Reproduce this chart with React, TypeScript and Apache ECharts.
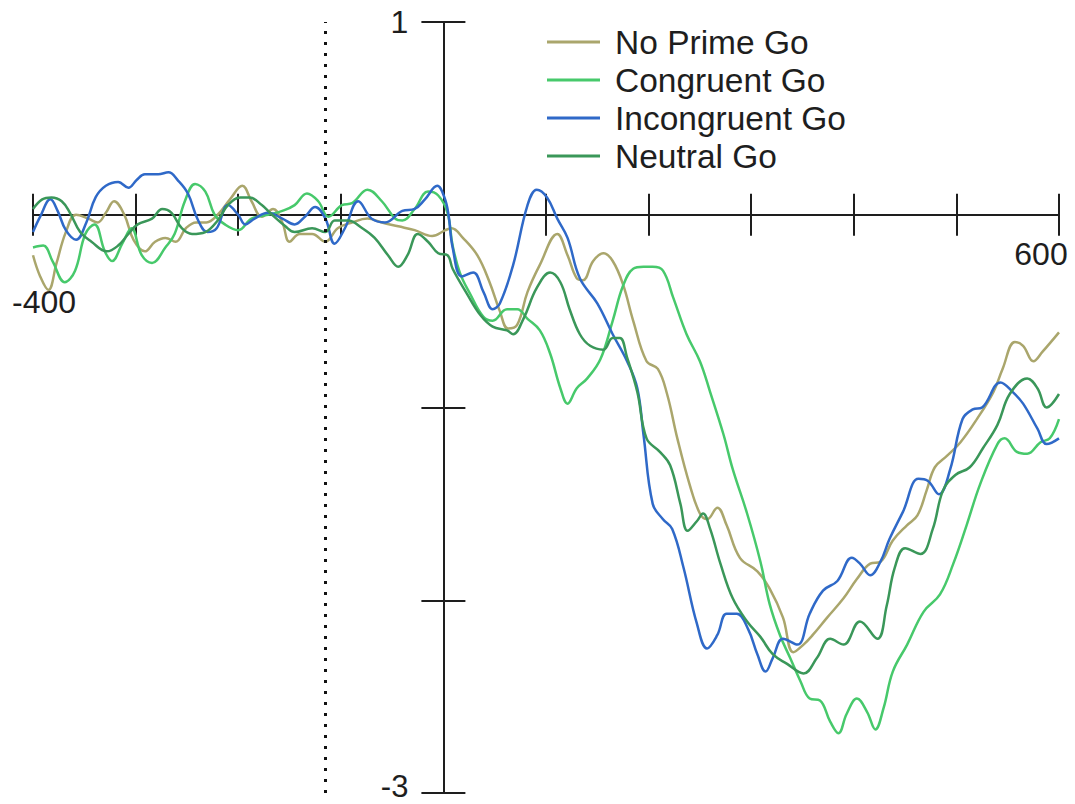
import React, { useEffect, useRef } from "react";
import * as echarts from "echarts";

const FONT = '"Liberation Sans", Arial, Helvetica, sans-serif';
const INK = "#1e1e1e";

const seriesNames = ["No Prime Go", "Congruent Go", "Incongruent Go", "Neutral Go"];
const seriesColors = ["#aaa66c", "#47c96b", "#2f69c8", "#3a9759"];

const xTickLabels = [-400, 600];
const yTickLabels = [1, -3];
const markerMs = -115;

// [time (ms), amplitude (µV)]
const noPrimeGo: [number, number][] = [
  [-400, -0.21], [-393, -0.32], [-385, -0.39], [-377, -0.25], [-368, -0.09], [-358, 0.0],
  [-346, -0.02], [-337, -0.04], [-329, 0.01], [-321, 0.07], [-311, 0.0], [-302, -0.13],
  [-291, -0.19], [-281, -0.14], [-271, -0.12], [-261, -0.14], [-251, -0.07], [-241, -0.04],
  [-231, -0.04], [-220, 0.0], [-208, 0.08], [-196, 0.15], [-187, 0.07], [-177, -0.01],
  [-166, 0.03], [-157, -0.04], [-150, -0.14], [-140, -0.1], [-128, -0.1], [-115, -0.14],
  [-103, -0.07], [-89, -0.04], [-74, -0.02], [-60, -0.04], [-44, -0.06], [-28, -0.08],
  [-11, -0.11], [2, -0.08], [8, -0.07], [19, -0.12], [33, -0.21], [45, -0.35], [55, -0.5],
  [63, -0.59], [72, -0.57], [82, -0.4], [94, -0.26], [111, -0.1], [121, -0.21], [130, -0.33],
  [136, -0.34], [146, -0.24], [156, -0.2], [165, -0.24], [175, -0.36], [185, -0.55],
  [198, -0.76], [209, -0.8], [218, -0.93], [228, -1.16], [240, -1.4], [250, -1.55],
  [257, -1.58], [267, -1.52], [276, -1.61], [289, -1.78], [306, -1.85], [318, -1.94],
  [331, -2.09], [341, -2.27], [351, -2.23], [360, -2.18], [374, -2.09], [390, -1.99],
  [403, -1.89], [416, -1.81], [426, -1.8], [438, -1.69], [452, -1.61], [462, -1.56],
  [471, -1.43], [479, -1.31], [491, -1.25], [504, -1.18], [520, -1.06], [536, -0.92],
  [545, -0.8], [557, -0.66], [565, -0.68], [575, -0.76], [584, -0.71], [600, -0.61],
];

const congruentGo: [number, number][] = [
  [-400, -0.17], [-390, -0.16], [-381, -0.24], [-369, -0.35], [-359, -0.29], [-349, -0.1],
  [-340, -0.05], [-330, -0.19], [-323, -0.24], [-313, -0.15], [-304, -0.07], [-294, -0.21],
  [-284, -0.25], [-271, -0.17], [-262, -0.1], [-252, 0.07], [-242, 0.16], [-232, 0.12],
  [-223, 0.0], [-213, -0.05], [-200, -0.08], [-187, -0.02], [-171, 0.0], [-157, 0.02],
  [-145, 0.05], [-133, 0.11], [-122, 0.07], [-112, -0.01], [-99, 0.05], [-89, 0.06],
  [-74, 0.13], [-60, 0.07], [-47, -0.02], [-40, -0.03], [-28, 0.03], [-15, 0.12], [-5, 0.1],
  [4, 0.01], [9, -0.16], [16, -0.3], [26, -0.41], [39, -0.53], [48, -0.55], [62, -0.49],
  [72, -0.49], [82, -0.54], [94, -0.6], [104, -0.72], [114, -0.9], [121, -0.98], [130, -0.9],
  [140, -0.85], [153, -0.75], [165, -0.55], [175, -0.37], [185, -0.28], [195, -0.27],
  [204, -0.27], [214, -0.29], [224, -0.43], [237, -0.62], [250, -0.76], [260, -0.92],
  [273, -1.14], [282, -1.32], [296, -1.55], [309, -1.8], [318, -2.02], [328, -2.18],
  [338, -2.3], [348, -2.42], [357, -2.51], [367, -2.52], [377, -2.63], [385, -2.69],
  [393, -2.59], [403, -2.51], [413, -2.58], [421, -2.67], [429, -2.56], [438, -2.37],
  [452, -2.23], [468, -2.06], [484, -1.97], [497, -1.81], [510, -1.61], [523, -1.4],
  [540, -1.19], [547, -1.16], [559, -1.23], [569, -1.24], [582, -1.18], [591, -1.16],
  [600, -1.06],
];

const incongruentGo: [number, number][] = [
  [-400, -0.09], [-393, -0.01], [-383, 0.08], [-376, 0.02], [-368, -0.08], [-358, -0.13],
  [-348, -0.04], [-339, 0.09], [-329, 0.15], [-317, 0.17], [-307, 0.14], [-299, 0.18],
  [-291, 0.21], [-278, 0.21], [-268, 0.22], [-259, 0.18], [-249, 0.11], [-239, -0.03],
  [-230, -0.09], [-221, -0.07], [-210, 0.05], [-200, 0.0], [-193, -0.05], [-184, -0.02],
  [-171, 0.01], [-157, -0.02], [-145, -0.05], [-135, -0.01], [-125, 0.04], [-115, -0.02],
  [-106, -0.15], [-96, -0.07], [-83, 0.07], [-70, -0.02], [-57, -0.04], [-40, 0.02],
  [-28, 0.03], [-18, 0.08], [-6, 0.15], [1, 0.09], [5, 0.0], [9, -0.17], [18, -0.32],
  [29, -0.3], [39, -0.4], [48, -0.49], [55, -0.46], [68, -0.26], [82, 0.05], [91, 0.13],
  [101, 0.09], [111, -0.02], [121, -0.12], [133, -0.33], [150, -0.46], [165, -0.62],
  [179, -0.76], [189, -0.9], [195, -1.14], [204, -1.5], [214, -1.58], [223, -1.63],
  [234, -1.83], [247, -2.12], [257, -2.25], [267, -2.18], [276, -2.07], [286, -2.07],
  [297, -2.15], [306, -2.28], [314, -2.37], [321, -2.3], [331, -2.2], [345, -2.23],
  [357, -2.07], [370, -1.95], [384, -1.9], [398, -1.78], [406, -1.81], [416, -1.87],
  [426, -1.8], [435, -1.68], [448, -1.54], [463, -1.37], [472, -1.38], [483, -1.45],
  [494, -1.32], [506, -1.06], [516, -1.01], [525, -1.0], [543, -0.87], [555, -0.92],
  [565, -0.98], [579, -1.11], [588, -1.19], [600, -1.16],
];

const neutralGo: [number, number][] = [
  [-400, 0.03], [-391, 0.08], [-382, 0.09], [-372, 0.07], [-364, 0.01], [-354, -0.09],
  [-343, -0.14], [-328, -0.19], [-317, -0.16], [-307, -0.1], [-298, -0.05], [-284, -0.02],
  [-274, 0.03], [-265, 0.01], [-255, -0.07], [-245, -0.1], [-232, -0.09], [-220, -0.03],
  [-210, 0.05], [-198, 0.09], [-189, 0.09], [-177, 0.05], [-167, 0.0], [-154, -0.06],
  [-145, -0.09], [-128, -0.07], [-115, -0.09], [-106, -0.03], [-93, -0.03], [-79, -0.07],
  [-67, -0.12], [-54, -0.21], [-44, -0.27], [-35, -0.21], [-25, -0.1], [-15, -0.14],
  [-5, -0.2], [4, -0.21], [9, -0.28], [23, -0.41], [36, -0.52], [48, -0.58], [62, -0.6],
  [68, -0.62], [78, -0.54], [91, -0.38], [104, -0.3], [114, -0.35], [123, -0.49],
  [133, -0.62], [143, -0.68], [156, -0.7], [165, -0.64], [172, -0.64], [179, -0.74],
  [189, -0.92], [198, -1.16], [211, -1.23], [221, -1.3], [231, -1.5], [238, -1.64],
  [247, -1.59], [253, -1.55], [260, -1.63], [270, -1.81], [282, -1.99], [296, -2.11],
  [309, -2.19], [321, -2.28], [335, -2.33], [351, -2.38], [364, -2.3], [377, -2.2],
  [390, -2.23], [406, -2.11], [423, -2.2], [432, -2.03], [440, -1.83], [450, -1.73],
  [465, -1.76], [477, -1.63], [487, -1.43], [499, -1.35], [513, -1.31], [526, -1.21],
  [540, -1.09], [552, -0.93], [569, -0.85], [579, -0.9], [588, -1.0], [600, -0.93],
];

const seriesData = [noPrimeGo, congruentGo, incongruentGo, neutralGo];

// plot frame in page pixels
const WIDTH = 1075;
const HEIGHT = 804;
const GRID = { left: 33, right: 16, top: 22, bottom: 11 };
const X_MIN = -400;
const X_MAX = 600;
const Y_MIN = -3;
const Y_MAX = 1;

export default function App() {
  const ref = useRef<HTMLDivElement>(null);

  useEffect(() => {
    if (!ref.current) return;
    const chart = echarts.init(ref.current, null, { renderer: "svg" });
    const axisLineStyle = { color: INK, width: 2 };

    // the axes cross at (0, 0): shift each axis from its grid edge onto the zero line
    const plotW = WIDTH - GRID.left - GRID.right;
    const plotH = HEIGHT - GRID.top - GRID.bottom;
    const zeroX = (-X_MIN / (X_MAX - X_MIN)) * plotW; // from grid left
    const zeroY = (Y_MAX / (Y_MAX - Y_MIN)) * plotH; // from grid top

    const xBase = {
      type: "value",
      min: X_MIN,
      max: X_MAX,
      interval: 100,
      axisLine: { show: true, onZero: false, lineStyle: axisLineStyle },
      splitLine: { show: false },
    };
    const yBase = {
      type: "value",
      min: Y_MIN,
      max: Y_MAX,
      interval: 1,
      axisLine: { show: true, onZero: false, lineStyle: axisLineStyle },
      splitLine: { show: false },
    };
    const labelFont = { fontFamily: FONT, fontSize: 32, color: INK, lineHeight: 32 };

    chart.setOption({
      animation: false,
      grid: { ...GRID, containLabel: false, outerBoundsMode: "none" },
      legend: {
        orient: "vertical",
        left: 547,
        top: 25,
        padding: 0,
        itemWidth: 53,
        itemHeight: 3,
        itemGap: 4,
        icon: "rect",
        selectedMode: false,
        data: seriesNames,
        textStyle: { ...labelFont, fontSize: 33.5, lineHeight: 33, padding: [0, 0, 0, 10] },
      },
      xAxis: [
        {
          ...xBase,
          position: "bottom",
          offset: -(plotH - zeroY),
          axisTick: { show: true, inside: false, length: 21, lineStyle: axisLineStyle },
          axisLabel: {
            ...labelFont,
            margin: 23,
            formatter: (v: number) =>
              v === xTickLabels[0] ? `{l|${v}}` : v === xTickLabels[1] ? `{r|${v}}` : "",
            rich: {
              l: { ...labelFont, padding: [96, 0, 0, 22] },
              r: { ...labelFont, padding: [0, 36, 0, 0] },
            },
          },
        },
        {
          ...xBase,
          position: "top",
          offset: -zeroY,
          axisTick: { show: true, inside: false, length: 21, lineStyle: axisLineStyle },
          axisLabel: { show: false },
        },
      ],
      yAxis: [
        {
          ...yBase,
          position: "left",
          offset: -zeroX,
          axisTick: { show: true, inside: false, length: 22, lineStyle: axisLineStyle },
          axisLabel: {
            ...labelFont,
            lineHeight: 20,
            margin: 35,
            formatter: (v: number) =>
              v === yTickLabels[0] ? `{t|${v}}` : v === yTickLabels[1] ? `{b|${v}}` : "",
            rich: {
              t: { ...labelFont, lineHeight: 20 },
              b: { ...labelFont, fontSize: 31, lineHeight: 20, padding: [0, 0, 14, 0] },
            },
          },
        },
        {
          ...yBase,
          position: "right",
          offset: -(plotW - zeroX),
          axisTick: { show: true, inside: false, length: 22, lineStyle: axisLineStyle },
          axisLabel: { show: false },
        },
      ],
      series: seriesData.map((data, i) => ({
        name: seriesNames[i],
        type: "line",
        xAxisIndex: 0,
        yAxisIndex: 0,
        data,
        smooth: 0.4,
        symbol: "none",
        emphasis: { disabled: true },
        lineStyle: { width: 2.5, color: seriesColors[i] },
        itemStyle: { color: seriesColors[i] },
        markLine:
          i === 0
            ? {
                silent: true,
                symbol: "none",
                label: { show: false },
                lineStyle: { color: "#111", width: 3, type: [3, 8] },
                data: [{ xAxis: markerMs }],
              }
            : undefined,
      })),
    });

    return () => chart.dispose();
  }, []);

  return (
    <div
      ref={ref}
      style={{ position: "fixed", left: 0, top: 0, width: WIDTH, height: HEIGHT, background: "#fff" }}
    />
  );
}
